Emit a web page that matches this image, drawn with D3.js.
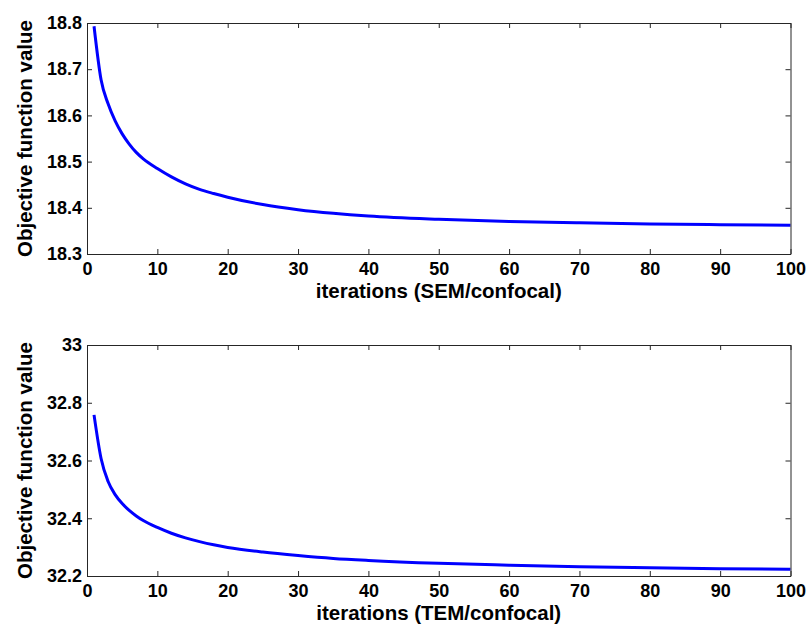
<!DOCTYPE html>
<html>
<head>
<meta charset="utf-8">
<script src="https://cdn.jsdelivr.net/npm/d3@7"></script>
<style>
  body { margin: 0; background: #fff; }
  svg text { font-family: "Liberation Sans", Arial, Helvetica, sans-serif; font-weight: bold; fill: #000; }
  .axis path, .axis line { stroke: #262626; stroke-width: 1; }
</style>
</head>
<body>
<div id="chart"></div>
<script>
// values
const iterations = [1, 2, 3, 4, 5, 6, 7, 8, 10, 12, 14, 16, 18, 20, 25, 30, 35, 40, 50, 60, 70, 80, 90, 100];
const semValues = [18.793, 18.677, 18.625, 18.588, 18.560, 18.538, 18.520, 18.506, 18.485, 18.467, 18.452, 18.440,
                   18.431, 18.423, 18.407, 18.396, 18.388, 18.382, 18.375, 18.3705, 18.3675, 18.3652, 18.3635, 18.362];
const temValues = [32.758, 32.607, 32.527, 32.482, 32.451, 32.427, 32.408, 32.392, 32.368, 32.348, 32.332, 32.319,
                   32.308, 32.299, 32.283, 32.271, 32.261, 32.254, 32.244, 32.2375, 32.232, 32.2285, 32.2255, 32.223];
const xTicks = [0, 10, 20, 30, 40, 50, 60, 70, 80, 90, 100];
const semTicks = [18.3, 18.4, 18.5, 18.6, 18.7, 18.8];
const temTicks = [32.2, 32.4, 32.6, 32.8, 33];

const width = 811, height = 635;
const svg = d3.select("#chart").append("svg")
    .attr("width", width)
    .attr("height", height);

const plotLeft = 87, plotRight = 790.5;
const tickFont = 18, labelFont = 20.5;

function drawPanel(top, bottom, values, yDomain, yTicks, yFormat, xLabel) {
    const xScale = d3.scaleLinear().domain([0, 100]).range([plotLeft, plotRight]);
    const yScale = d3.scaleLinear().domain(yDomain).range([bottom, top]);
    const g = svg.append("g");

    // curve
    const line = d3.line()
        .x((d, i) => xScale(iterations[i]))
        .y(d => yScale(d))
        .curve(d3.curveMonotoneX);
    g.append("path")
        .datum(values)
        .attr("fill", "none")
        .attr("stroke", "#0000ff")
        .attr("stroke-width", 3)
        .attr("stroke-linejoin", "round")
        .attr("d", line);

    // box axes with inward ticks
    g.append("g").attr("class", "axis")
        .attr("transform", "translate(0," + bottom + ")")
        .call(d3.axisBottom(xScale).tickValues(xTicks).tickSize(-5).tickSizeOuter(0).tickPadding(8))
        .call(s => s.selectAll("text").attr("font-size", tickFont));
    g.append("g").attr("class", "axis")
        .attr("transform", "translate(0," + top + ")")
        .call(d3.axisTop(xScale).tickValues(xTicks).tickSize(-5).tickSizeOuter(0).tickFormat(""));
    g.append("g").attr("class", "axis")
        .attr("transform", "translate(" + plotLeft + ",0)")
        .call(d3.axisLeft(yScale).tickValues(yTicks).tickFormat(yFormat).tickSize(-5).tickSizeOuter(0).tickPadding(5))
        .call(s => s.selectAll("text").attr("font-size", tickFont));
    g.append("g").attr("class", "axis")
        .attr("transform", "translate(" + plotRight + ",0)")
        .call(d3.axisRight(yScale).tickValues(yTicks).tickSize(-5).tickSizeOuter(0).tickFormat(""));
    g.selectAll(".axis .tick text").attr("fill", "#000");

    // labels
    g.append("text")
        .attr("x", (plotLeft + plotRight) / 2)
        .attr("y", bottom + 44)
        .attr("text-anchor", "middle")
        .attr("font-size", labelFont)
        .text(xLabel);
    g.append("text")
        .attr("transform", "translate(32," + ((top + bottom) / 2) + ") rotate(-90)")
        .attr("text-anchor", "middle")
        .attr("font-size", labelFont)
        .text("Objective function value");
}

drawPanel(23, 254, semValues, [18.3, 18.8], semTicks, d3.format(".1f"), "iterations (SEM/confocal)");
drawPanel(345, 576, temValues, [32.2, 33], temTicks, d => (d === 33 ? "33" : d3.format(".1f")(d)), "iterations (TEM/confocal)");
</script>
</body>
</html>
